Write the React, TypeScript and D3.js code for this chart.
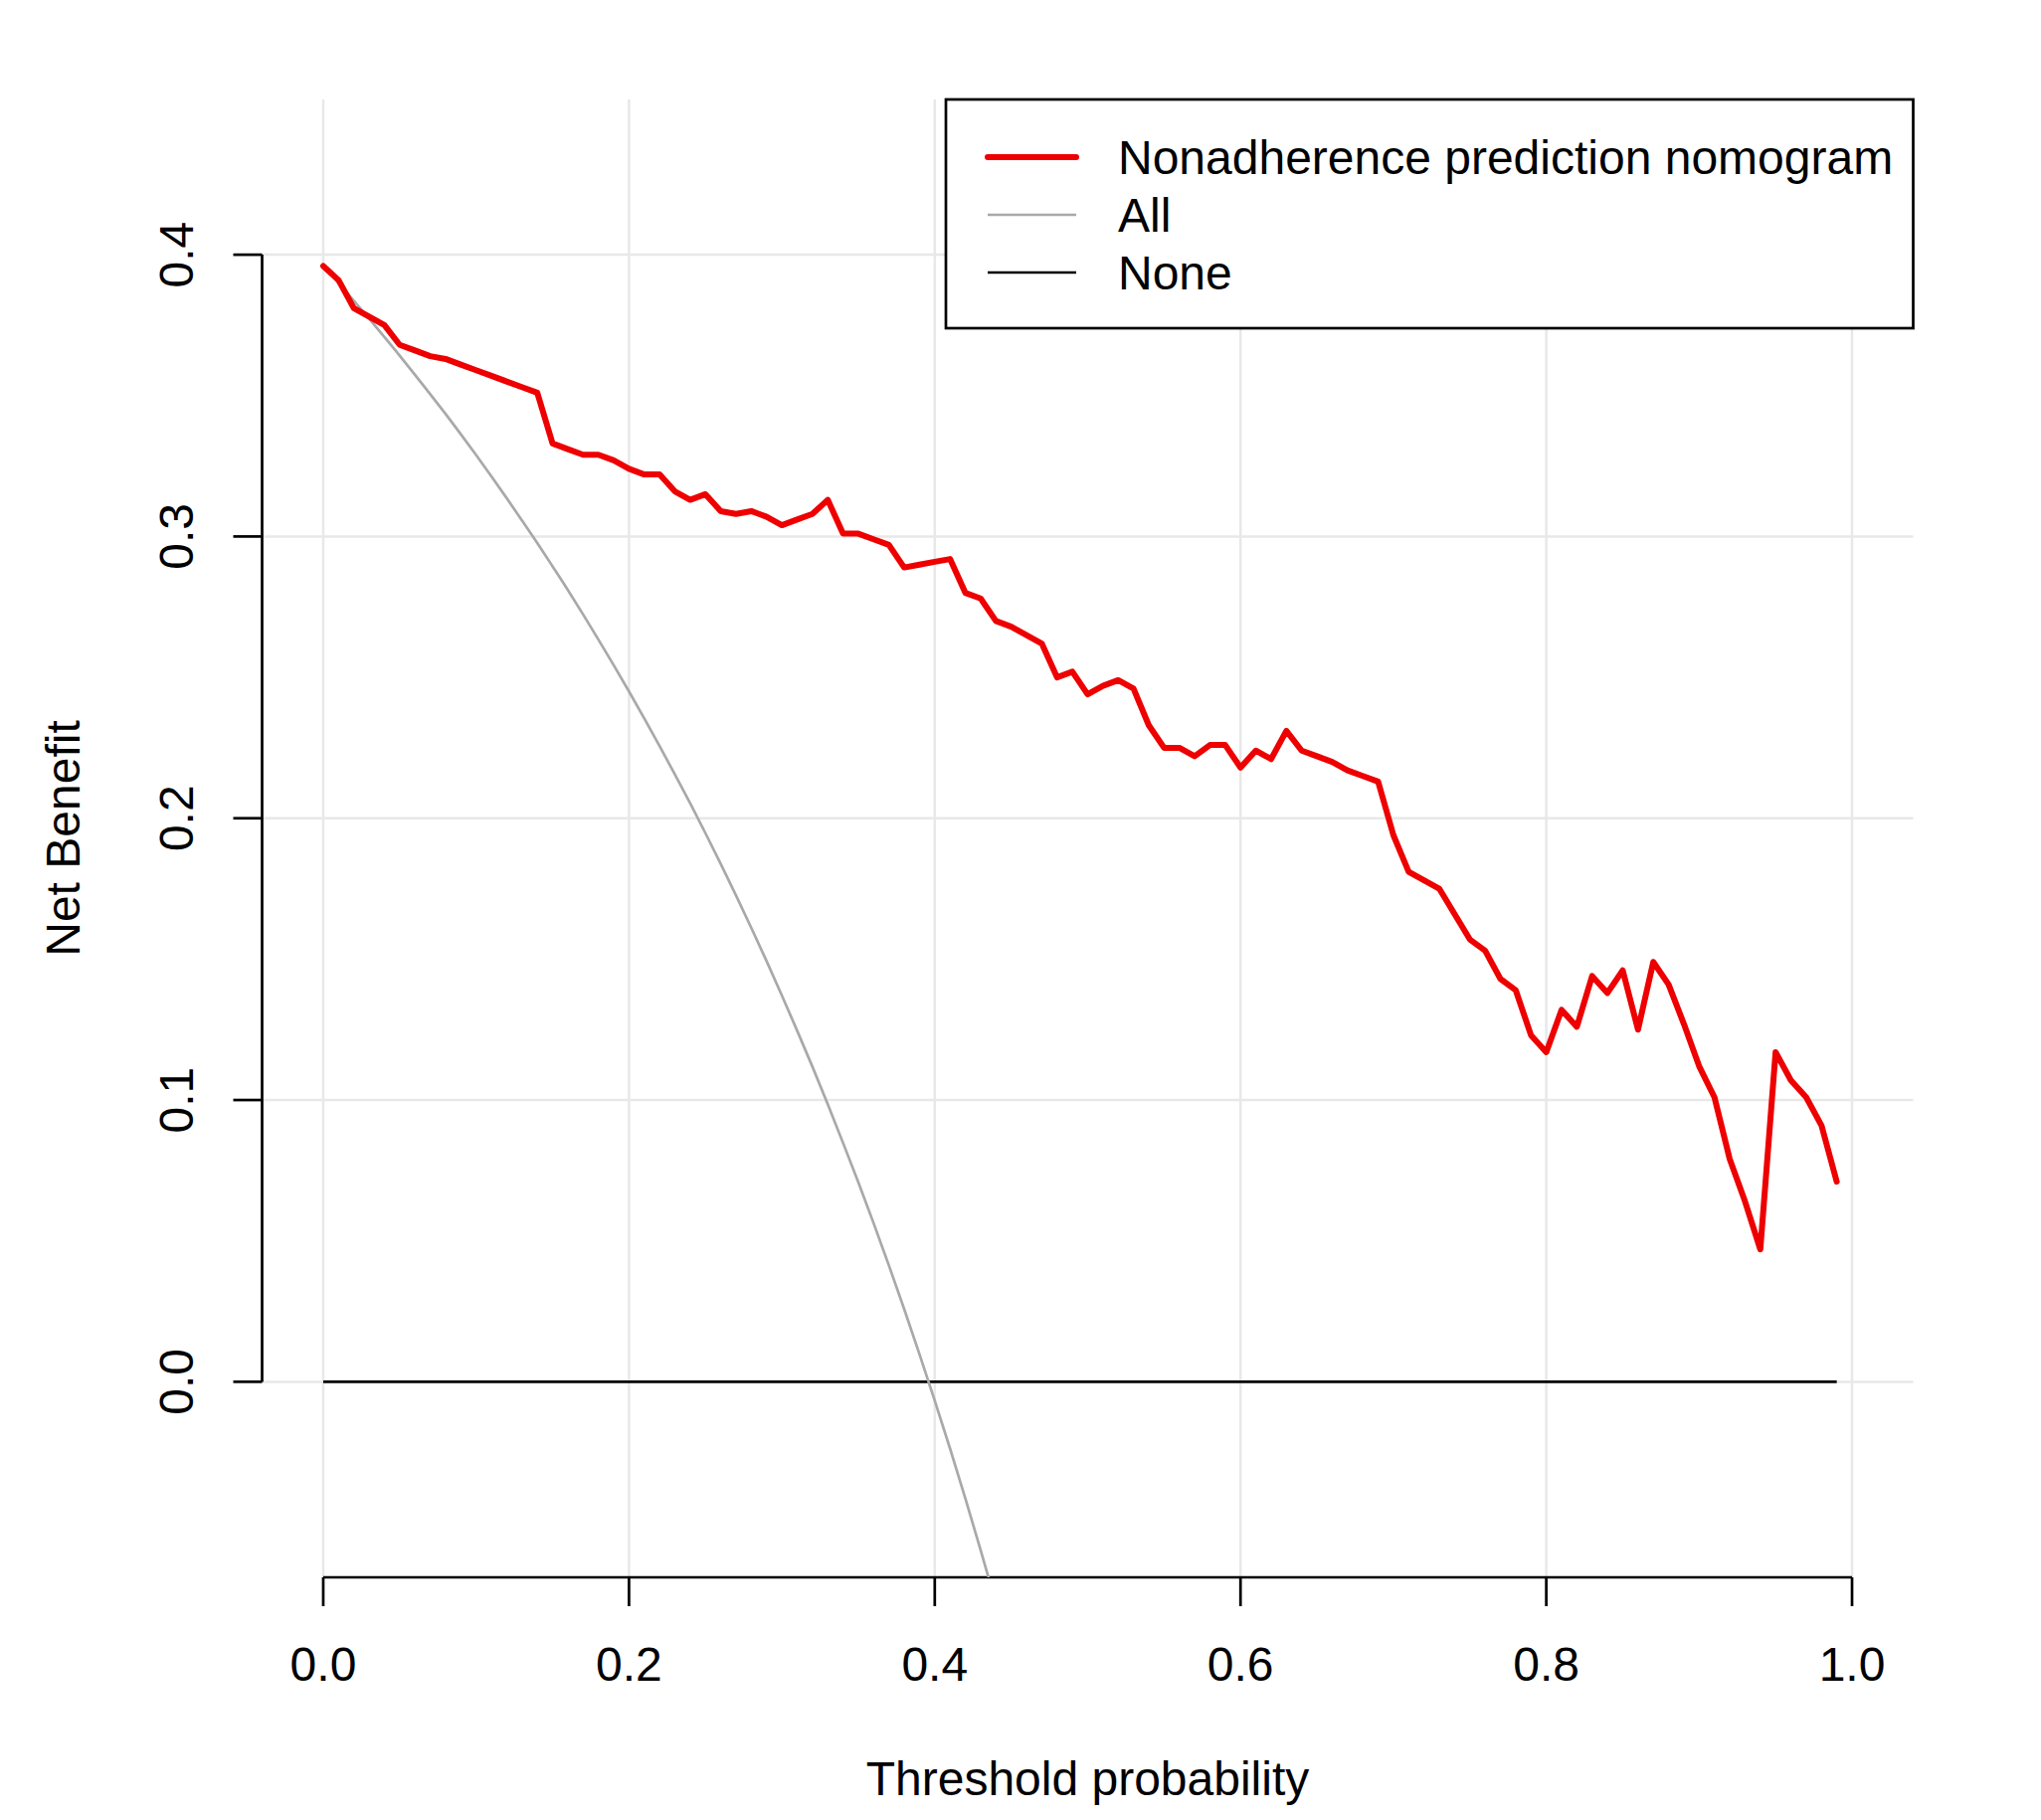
import { useEffect, useRef } from "react";
import * as d3 from "d3";

// threshold probabilities 0.00 .. 0.99
const thresholds = d3.range(0, 100).map((i) => i / 100);

// net benefit of the nomogram
const nomogramNB = [
  0.396, 0.391, 0.381, 0.378, 0.375, 0.368, 0.366, 0.364, 0.363, 0.361,
  0.359, 0.357, 0.355, 0.353, 0.351, 0.333, 0.331, 0.329, 0.329, 0.327,
  0.324, 0.322, 0.322, 0.316, 0.313, 0.315, 0.309, 0.308, 0.309, 0.307,
  0.304, 0.306, 0.308, 0.313, 0.301, 0.301, 0.299, 0.297, 0.289, 0.29,
  0.291, 0.292, 0.28, 0.278, 0.27, 0.268, 0.265, 0.262, 0.25, 0.252,
  0.244, 0.247, 0.249, 0.246, 0.233, 0.225, 0.225, 0.222, 0.226, 0.226,
  0.218, 0.224, 0.221, 0.231, 0.224, 0.222, 0.22, 0.217, 0.215, 0.213,
  0.194, 0.181, 0.178, 0.175, 0.166, 0.157, 0.153, 0.143, 0.139, 0.123,
  0.117, 0.132, 0.126, 0.144, 0.138, 0.146, 0.125, 0.149, 0.141, 0.127,
  0.112, 0.101, 0.079, 0.064, 0.047, 0.117, 0.107, 0.101, 0.091, 0.071,
];

// "treat all" curve, thresholds 0.00 .. 0.44 (clipped below the plot)
const allNB = [
  0.396, 0.3899, 0.3837, 0.3773, 0.3708, 0.3642, 0.3574, 0.3505, 0.3435, 0.3363,
  0.3289, 0.3213, 0.3136, 0.3057, 0.2977, 0.2894, 0.281, 0.2723, 0.2634, 0.2543,
  0.245, 0.2354, 0.2256, 0.2156, 0.2053, 0.1947, 0.1838, 0.1726, 0.1611, 0.1493,
  0.1371, 0.1246, 0.1118, 0.0985, 0.0848, 0.0708, 0.0563, 0.0413, 0.0258, 0.0098,
  -0.0067, -0.0237, -0.0414, -0.0597, -0.0786,
];

const xTicks = [0, 0.2, 0.4, 0.6, 0.8, 1.0];
const yTicks = [0, 0.1, 0.2, 0.3, 0.4];

const legendLabels = ["Nonadherence prediction nomogram", "All", "None"];
const legendColors = ["#ee0000", "#a9a9a9", "#000000"];
const legendWidths = [6, 2.7, 2.7];

const WIDTH = 2052;
const HEIGHT = 1830;
const FONT = "'Liberation Sans', Arial, Helvetica, sans-serif";

export default function App() {
  const svgRef = useRef<SVGSVGElement>(null);

  useEffect(() => {
    if (!svgRef.current) return;
    const svg = d3.select(svgRef.current);
    svg.selectAll("*").remove();

    const left = 263.5;
    const right = 1923.5;
    const top = 100;
    const bottom = 1586;

    const x = d3.scaleLinear().domain([-0.04, 1.04]).range([left, right]);
    const y = d3.scaleLinear().domain([-0.0694, 0.4551]).range([bottom, top]);

    svg
      .append("defs")
      .append("clipPath")
      .attr("id", "plot-clip")
      .append("rect")
      .attr("x", left)
      .attr("y", top)
      .attr("width", right - left)
      .attr("height", bottom - top);

    // grid
    const grid = svg.append("g").attr("stroke", "#e8e8e8").attr("stroke-width", 2.5);
    xTicks.forEach((t) => {
      grid.append("line").attr("x1", x(t)).attr("x2", x(t)).attr("y1", top).attr("y2", bottom);
    });
    yTicks.forEach((t) => {
      grid.append("line").attr("x1", left).attr("x2", right).attr("y1", y(t)).attr("y2", y(t));
    });

    // axes
    const axes = svg.append("g").attr("stroke", "#000").attr("stroke-width", 2.7).attr("fill", "none");
    axes
      .append("line")
      .attr("x1", x(0))
      .attr("x2", x(1))
      .attr("y1", bottom)
      .attr("y2", bottom);
    xTicks.forEach((t) => {
      axes.append("line").attr("x1", x(t)).attr("x2", x(t)).attr("y1", bottom).attr("y2", bottom + 29);
    });
    axes
      .append("line")
      .attr("x1", left)
      .attr("x2", left)
      .attr("y1", y(0))
      .attr("y2", y(0.4));
    yTicks.forEach((t) => {
      axes.append("line").attr("x1", left).attr("x2", left - 29).attr("y1", y(t)).attr("y2", y(t));
    });

    xTicks.forEach((t) => {
      svg
        .append("text")
        .attr("x", x(t))
        .attr("y", 1673)
        .attr("text-anchor", "middle")
        .attr("dominant-baseline", "central")
        .attr("font-family", FONT)
        .attr("font-size", 48)
        .text(t.toFixed(1));
    });
    yTicks.forEach((t) => {
      svg
        .append("text")
        .attr("x", 178)
        .attr("y", y(t))
        .attr("transform", `rotate(-90, 178, ${y(t)})`)
        .attr("text-anchor", "middle")
        .attr("dominant-baseline", "central")
        .attr("font-family", FONT)
        .attr("font-size", 48)
        .text(t.toFixed(1));
    });

    svg
      .append("text")
      .attr("x", (left + right) / 2)
      .attr("y", 1788)
      .attr("text-anchor", "middle")
      .attr("dominant-baseline", "central")
      .attr("font-family", FONT)
      .attr("font-size", 48)
      .text("Threshold probability");
    svg
      .append("text")
      .attr("x", 63)
      .attr("y", (top + bottom) / 2)
      .attr("transform", `rotate(-90, 63, ${(top + bottom) / 2})`)
      .attr("text-anchor", "middle")
      .attr("dominant-baseline", "central")
      .attr("font-family", FONT)
      .attr("font-size", 48)
      .text("Net Benefit");

    const line = d3
      .line<number>()
      .x((_, i) => x(thresholds[i]))
      .y((d) => y(d));

    const smoothLine = d3
      .line<number>()
      .x((_, i) => x(thresholds[i]))
      .y((d) => y(d))
      .curve(d3.curveMonotoneX);

    const plot = svg.append("g").attr("clip-path", "url(#plot-clip)");

    // None
    plot
      .append("line")
      .attr("x1", x(thresholds[0]))
      .attr("x2", x(thresholds[thresholds.length - 1]))
      .attr("y1", y(0))
      .attr("y2", y(0))
      .attr("stroke", legendColors[2])
      .attr("stroke-width", legendWidths[2]);

    // All
    plot
      .append("path")
      .datum(allNB)
      .attr("d", smoothLine)
      .attr("fill", "none")
      .attr("stroke", legendColors[1])
      .attr("stroke-width", legendWidths[1]);

    // Nomogram
    plot
      .append("path")
      .datum(nomogramNB)
      .attr("d", line)
      .attr("fill", "none")
      .attr("stroke", legendColors[0])
      .attr("stroke-width", legendWidths[0])
      .attr("stroke-linejoin", "round")
      .attr("stroke-linecap", "round");

    // legend
    const legend = svg.append("g");
    legend
      .append("rect")
      .attr("x", 951)
      .attr("y", top)
      .attr("width", right - 951)
      .attr("height", 330 - top)
      .attr("fill", "#fff")
      .attr("stroke", "#000")
      .attr("stroke-width", 2.7);
    legendLabels.forEach((label, i) => {
      const ly = 158 + i * 58;
      legend
        .append("line")
        .attr("x1", 993)
        .attr("x2", 1082)
        .attr("y1", ly)
        .attr("y2", ly)
        .attr("stroke", legendColors[i])
        .attr("stroke-width", legendWidths[i])
        .attr("stroke-linecap", i === 0 ? "round" : "butt");
      legend
        .append("text")
        .attr("x", 1124)
        .attr("y", ly)
        .attr("dominant-baseline", "central")
        .attr("font-family", FONT)
        .attr("font-size", 48)
        .text(label);
    });
  }, []);

  return (
    <svg
      ref={svgRef}
      width={WIDTH}
      height={HEIGHT}
      style={{ position: "absolute", left: 0, top: 0, background: "#fff" }}
    ></svg>
  );
}
